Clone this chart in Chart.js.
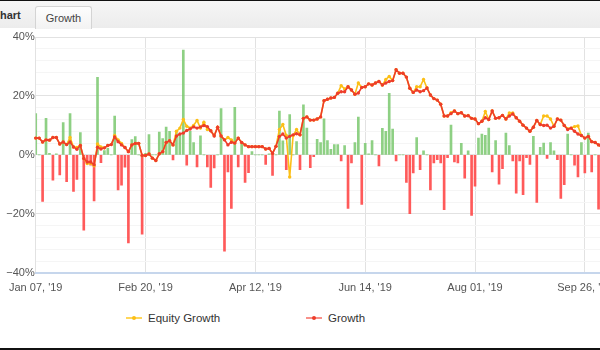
<!DOCTYPE html>
<html>
<head>
<meta charset="utf-8">
<script src="https://cdn.jsdelivr.net/npm/chart.js@4"></script>
<style>
    html, body { margin: 0; padding: 0; background: #fff; }
    body { width: 600px; height: 350px; overflow: hidden; position: relative; font-family: "Liberation Sans", Arial, sans-serif; }
    .edge-top { position: absolute; left: 0; top: 0; width: 600px; height: 1px; background: #111; }
    .edge-bottom { position: absolute; left: 0; top: 348px; width: 600px; height: 2px; background: #111; }
    .header { position: absolute; left: 0; top: 1px; width: 600px; height: 27px; background: linear-gradient(#f6f6f6, #ececec); }
    .header .title { position: absolute; left: -8px; top: 8px; font-size: 11px; font-weight: bold; color: #333; }
    .header .tab {
        position: absolute; left: 35px; top: 5px; width: 55px; height: 22px;
        border: 1px solid #d4d4d4; border-bottom: none; border-radius: 3px 3px 0 0;
        background: linear-gradient(#fdfdfd, #f2f2f2);
        font-size: 11px; color: #444; text-align: center; line-height: 22px;
    }
    .plot-wrap { position: absolute; left: 0; top: 28px; width: 600px; height: 282px; overflow: hidden; }
    .plot { position: relative; width: 620px; height: 282px; }
    .legend { position: absolute; top: 310px; left: 0; width: 600px; height: 16px; font-size: 11.5px; color: #333; }
    .legend-item { position: absolute; top: 0; height: 16px; line-height: 16px; }
    .legend-icon { position: absolute; left: 0; top: 7px; width: 16px; height: 2px; }
    .legend-icon i { position: absolute; left: 6px; top: -1px; width: 4px; height: 4px; border-radius: 2px; }
    .legend-item span { position: absolute; left: 22px; top: 0; white-space: nowrap; }
</style>
</head>
<body>
<div class="edge-top"></div>
<div class="header">
    <div class="title">Chart</div>
    <div class="tab">Growth</div>
</div>
<div class="plot-wrap"><div class="plot"><canvas id="growthChart"></canvas></div></div>
<div class="legend" id="chartLegend"></div>
<div class="edge-bottom"></div>

<script>
// tick labels, one every 32 points
const tickLabels = ["Jan 07, '19", "Feb 20, '19", "Apr 12, '19", "Jun 14, '19", "Aug 01, '19", "Sep 26, '19"];
const tickEvery = 32;

// Growth (%), one value per trading day
const growth = [
    5.7, 5.7, 4.4, 5.1, 5.0, 5.9, 5.9, 3.7, 4.4, 3.5,
    4.4, 2.7, 1.9, 3.2, -1.2, -2.4, -2.4, -3.3, 2.6, 2.0,
    2.4, 3.2, 3.5, 6.1, 4.5, 3.4, 2.5, 1.1, 3.4, 3.9,
    3.9, -0.2, -0.2, 0.3, -1.1, -1.9, 0.4, 1.1, 4.2, 4.8,
    3.4, 6.4, 7.1, 7.4, 8.3, 8.8, 9.5, 9.1, 9.5, 10.0,
    9.6, 8.2, 6.4, 9.4, 6.4, 5.1, 3.4, 4.3, 4.0, 5.7,
    4.2, 3.4, 2.8, 2.8, 2.8, 2.8, 2.8, 2.0, 2.2, 0.5,
    2.9, 6.3, 7.1, 5.7, 6.3, 6.8, 7.2, 6.8, 12.4, 12.9,
    11.8, 11.8, 12.2, 12.9, 18.4, 18.9, 19.3, 19.5, 20.9, 21.4,
    21.4, 23.1, 22.0, 20.6, 21.0, 22.9, 23.1, 24.1, 23.7, 24.4,
    24.9, 23.7, 24.4, 24.9, 25.2, 28.9, 27.7, 27.7, 26.4, 22.6,
    21.2, 22.0, 21.4, 21.8, 22.7, 20.3, 19.1, 18.6, 17.2, 13.2,
    13.2, 14.0, 14.9, 14.0, 14.3, 13.2, 13.3, 12.4, 12.2, 10.6,
    11.4, 12.6, 12.0, 14.9, 12.4, 12.6, 13.4, 12.2, 13.2, 13.9,
    12.6, 11.4, 10.1, 9.1, 8.0, 9.4, 11.7, 10.3, 10.0, 10.1,
    9.1, 9.7, 12.2, 11.8, 10.0, 8.6, 9.1, 8.0, 7.1, 6.6,
    5.7, 6.3, 4.5, 4.2, 3.4, 2.5
];

// Equity Growth (%)
const equityGrowth = [
    5.7, 5.7, 4.4, 5.1, 5.0, 5.9, 5.9, 3.7, 4.4, 3.5,
    5.9, 2.7, 2.5, 3.2, -1.2, -2.9, -2.8, -3.7, 3.7, 2.7,
    2.4, 3.2, 3.5, 6.6, 5.1, 3.9, 2.5, 1.1, 3.4, 3.9,
    3.9, -0.2, -0.2, 0.3, -1.1, -1.9, 0.4, 1.1, 4.2, 4.8,
    3.4, 8.0, 9.1, 12.0, 9.7, 9.1, 10.0, 11.7, 9.1, 11.1,
    8.6, 8.2, 6.6, 9.4, 6.4, 5.1, 5.9, 5.1, 4.0, 5.7,
    4.2, 3.4, 2.8, 2.8, 2.8, 2.8, 2.8, 2.0, 2.2, 0.5,
    2.9, 8.6, 10.3, 6.6, -7.5, 6.6, 8.6, 6.8, 12.4, 12.9,
    11.8, 11.8, 12.2, 12.9, 18.4, 18.9, 19.3, 19.5, 20.9, 23.5,
    22.4, 23.1, 22.0, 20.6, 24.4, 22.9, 23.1, 24.1, 23.7, 24.4,
    24.9, 23.7, 25.6, 26.6, 25.2, 28.9, 27.7, 27.7, 26.4, 22.6,
    21.2, 23.1, 23.1, 25.6, 22.7, 20.3, 19.1, 18.6, 17.2, 13.2,
    13.2, 14.3, 14.9, 14.0, 14.3, 13.2, 13.4, 12.4, 12.2, 10.6,
    11.4, 14.7, 12.0, 14.9, 12.4, 12.6, 13.4, 12.2, 14.2, 14.2,
    12.6, 11.4, 10.1, 9.1, 8.0, 9.4, 11.7, 10.3, 13.2, 13.2,
    12.2, 9.7, 12.2, 11.8, 10.0, 8.9, 9.1, 9.6, 9.8, 6.6,
    5.7, 6.3, 4.5, 4.2, 3.4, 2.5
];

// daily result bars (%)
const dailyBars = [
    14.0, 0, -15.8, 12.4, 0.5, -8.6, 0.4, -6.8, 11.0, -9.1,
    14.0, -12.4, -8.3, 7.6, -25.5, -3.0, -3.5, -15.6, 26.3, -2.6,
    1.5, 2.2, 0, 13.2, -11.9, -10.3, -4.2, -29.9, 5.2, 6.2,
    0, -26.9, 0.5, 6.9, 0, 0, 7.7, 5.5, 9.4, 8.0,
    -1.7, 7.6, 6.6, 35.6, -3.5, 8.0, 4.2, -4.1, 6.5, 0,
    -4.1, -11.0, -4.4, 0, 15.7, -32.7, -5.8, -18.2, 16.1, -4.1,
    3.7, -9.3, -6.0, 1.1, 0, 0, 0, -3.2, 0.4, -7.0,
    0, 14.9, 4.8, -5.0, 13.7, 0, 4.5, -5.0, 17.0, 9.1,
    -4.3, -0.6, 5.3, 4.2, 12.2, 4.9, 1.9, 3.5, 3.5, -2.0,
    3.2, -18.2, -2.7, 4.2, 12.8, -16.8, 3.9, 0.4, 4.9, 0,
    -3.7, 9.0, 8.0, 20.9, 8.8, -2.0, 0, 0, -9.3, -19.9,
    -6.1, 5.9, -5.0, 1.4, 0, -11.9, -2.7, -1.6, -2.7, -18.6,
    -0.9, 10.1, -2.4, -2.7, 3.9, -7.9, 1.4, -20.5, -10.6, 5.7,
    7.1, 6.6, 9.1, -5.8, 4.9, -9.9, -4.7, 7.4, 3.2, -2.0,
    -13.0, -2.0, -13.5, -0.9, -3.2, 6.3, -16.1, 2.6, 4.0, -1.2,
    4.2, 1.4, -1.6, -14.8, -10.1, 7.1, 0, -3.5, -7.5, 4.2,
    -6.1, 7.4, -5.8, 0, -18.4, 0
];

const colors = {
    growth: '#ee3d2a',
    equity: '#fcbf16',
    up: 'rgba(122, 200, 110, 0.85)',
    down: 'rgba(255, 72, 72, 0.9)',
    text: '#555',
    grid: '#e2e2e2',
    gridMinor: '#f5f5f5',
    axis: '#c6d6ec'
};

// category labels: tick label every 32 points, blank elsewhere
const categories = growth.map((v, i) => i % tickEvery === 0 ? (tickLabels[i / tickEvery] || '') : '');

function setupChart() {
    const ctx = document.getElementById('growthChart');
    Chart.defaults.font.family = '"Liberation Sans", Arial, sans-serif';
    Chart.defaults.font.size = 11;

    new Chart(ctx, {
        type: 'bar',
        data: {
            labels: categories,
            datasets: [
                {
                    type: 'line',
                    label: 'Growth',
                    data: growth,
                    borderColor: colors.growth,
                    backgroundColor: colors.growth,
                    borderWidth: 1.6,
                    pointRadius: 1.7,
                    pointBorderWidth: 0,
                    pointBackgroundColor: colors.growth,
                    tension: 0,
                    order: 0
                },
                {
                    type: 'line',
                    label: 'Equity Growth',
                    data: equityGrowth,
                    borderColor: colors.equity,
                    backgroundColor: colors.equity,
                    borderWidth: 1.6,
                    pointRadius: 1.7,
                    pointBorderWidth: 0,
                    pointBackgroundColor: colors.equity,
                    tension: 0,
                    order: 1
                },
                {
                    type: 'bar',
                    label: 'Daily',
                    data: dailyBars,
                    backgroundColor: (c) => c.raw >= 0 ? colors.up : colors.down,
                    borderWidth: 0,
                    barThickness: 2,
                    order: 2
                }
            ]
        },
        options: {
            responsive: true,
            maintainAspectRatio: false,
            animation: false,
            layout: { padding: { top: 9, right: 18, bottom: 6, left: 0 } },
            plugins: {
                legend: { display: false },
                tooltip: { enabled: false }
            },
            scales: {
                x: {
                    offset: false,
                    grid: {
                        offset: false,
                        drawTicks: false,
                        color: (c) => c.index % tickEvery === 0 ? colors.grid : 'rgba(0,0,0,0)'
                    },
                    border: { display: true, color: colors.axis, width: 2 },
                    ticks: {
                        autoSkip: false,
                        maxRotation: 0,
                        minRotation: 0,
                        padding: 9,
                        color: colors.text,
                        font: { size: 11 }
                    }
                },
                y: {
                    min: -40,
                    max: 40,
                    grid: {
                        drawTicks: false,
                        color: (c) => c.tick.value % 20 === 0 ? colors.grid : colors.gridMinor
                    },
                    border: { display: false },
                    ticks: {
                        stepSize: 4,
                        autoSkip: false,
                        padding: 1,
                        color: colors.text,
                        font: { size: 11 },
                        callback: (v) => v % 20 === 0 ? String(v).replace('-', '\u2212') + '%' : ''
                    }
                }
            }
        }
    });
}

function renderLegend() {
    const items = [
        { label: 'Equity Growth', line: '#ffd65a', dot: colors.equity, left: 126 },
        { label: 'Growth', line: '#f8918a', dot: colors.growth, left: 306 }
    ];
    document.getElementById('chartLegend').innerHTML = items.map(it => `
        <div class="legend-item" style="left:${it.left}px">
            <div class="legend-icon" style="background:${it.line}"><i style="background:${it.dot}"></i></div>
            <span>${it.label}</span>
        </div>
    `).join('');
}

setupChart();
renderLegend();
</script>
</body>
</html>
